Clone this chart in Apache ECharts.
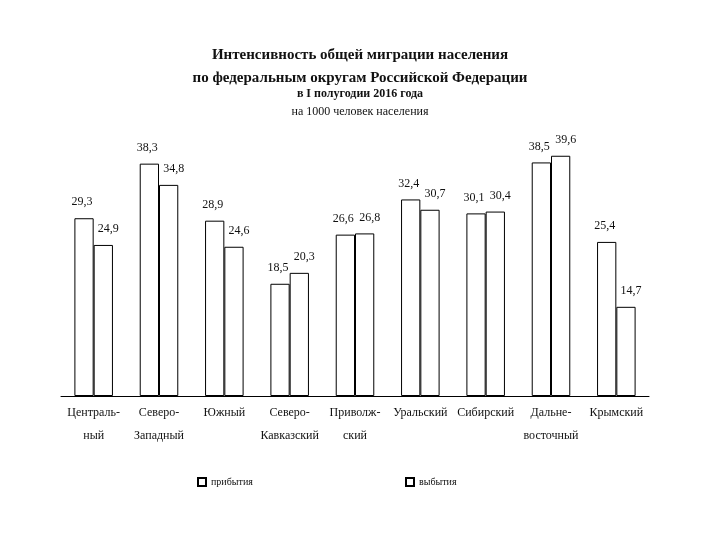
<!DOCTYPE html>
<html>
<head>
<meta charset="utf-8">
<script src="https://cdn.jsdelivr.net/npm/echarts@6/dist/echarts.min.js"></script>
<style>html,body{margin:0;padding:0;background:#fff}#c{width:720px;height:540px}</style>
</head>
<body>
<div id="c"></div>
<script>
var categories = ["Централь-\nный", "Северо-\nЗападный", "Южный", "Северо-\nКавказский", "Приволж-\nский", "Уральский", "Сибирский", "Дальне-\nвосточный", "Крымский"];
var arrivals = [29.3, 38.3, 28.9, 18.5, 26.6, 32.4, 30.1, 38.5, 25.4];
var departures = [24.9, 34.8, 24.6, 20.3, 26.8, 30.7, 30.4, 39.6, 14.7];
var seriesNames = ["прибытия", "выбытия"];

var serif = "Liberation Serif";
var chart = echarts.init(document.getElementById('c'));
function fmt(p){ return String(p.value).replace('.', ','); }
chart.setOption({
  backgroundColor: '#fff',
  animation: false,
  title: [
    {text: 'Интенсивность общей миграции населения\nпо федеральным округам Российской Федерации', left: 'center', top: 39,
     textStyle: {fontFamily: serif, fontSize: 15, fontWeight: 'bold', color: '#111', lineHeight: 23}},
    {text: 'в I полугодии 2016 года', left: 'center', top: 83,
     textStyle: {fontFamily: serif, fontSize: 12, fontWeight: 'bold', color: '#111'}},
    {text: 'на 1000 человек населения', left: 'center', top: 101,
     textStyle: {fontFamily: serif, fontSize: 12, fontWeight: 'normal', color: '#111'}}
  ],
  legend: [
    {data: [seriesNames[0]], left: 192, top: 472, itemWidth: 8, itemHeight: 8, icon: 'rect',
     textStyle: {fontFamily: serif, fontSize: 10, color: '#111'}},
    {data: [seriesNames[1]], left: 400, top: 472, itemWidth: 8, itemHeight: 8, icon: 'rect',
     textStyle: {fontFamily: serif, fontSize: 10, color: '#111'}}
  ],
  grid: {left: 61, right: 71, top: 123, bottom: 144},
  xAxis: {
    type: 'category', data: categories,
    axisLine: {lineStyle: {color: '#000', width: 1}},
    axisTick: {length: 4, lineStyle: {color: '#000'}},
    axisLabel: {fontFamily: serif, fontSize: 12, color: '#111', lineHeight: 23, margin: 5, interval: 0}
  },
  yAxis: {type: 'value', min: 0, max: 45, show: false},
  series: [
    {name: seriesNames[0], type: 'bar', data: arrivals, barGap: '0%', barCategoryGap: '41%',
     itemStyle: {color: '#fff', borderColor: '#000', borderWidth: 1},
     label: {show: true, position: 'top', distance: 10, offset: [-2, 0], formatter: fmt,
             fontFamily: serif, fontSize: 12, color: '#111'}},
    {name: seriesNames[1], type: 'bar', data: departures,
     itemStyle: {color: '#fff', borderColor: '#000', borderWidth: 1},
     label: {show: true, position: 'top', distance: 10, offset: [5, 0], formatter: fmt,
             fontFamily: serif, fontSize: 12, color: '#111'}}
  ]
});
</script>
</body>
</html>
